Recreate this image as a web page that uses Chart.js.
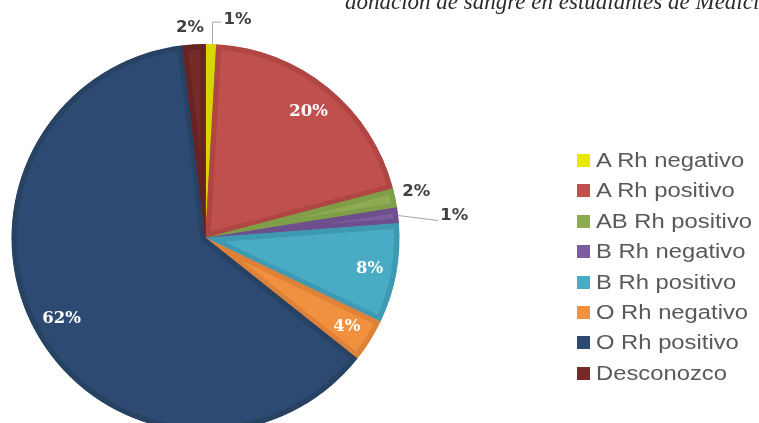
<!DOCTYPE html>
<html>
<head>
<meta charset="utf-8">
<script src="https://cdn.jsdelivr.net/npm/chart.js@4/dist/chart.umd.min.js"></script>
<style>
  html, body { margin:0; padding:0; background:#fff; overflow:hidden; width:759px; height:423px; }
  #wrap { position:absolute; left:0; top:0; width:759px; height:440px; }
  #title { position:absolute; left:345px; top:-11px; white-space:nowrap; font-family:"Liberation Serif", serif; font-style:italic; font-size:23px; color:#2b2b2b; }
  #legend { position:absolute; left:577px; top:149px; font-family:"Liberation Sans", Arial, sans-serif; color:#595959; }
  .item { position:relative; height:30.4px; }
  .sw { position:absolute; left:0; top:5px; width:13px; height:13px; }
  .tx { position:absolute; left:19px; top:0; font-size:19.5px; line-height:22px; white-space:nowrap; transform:scaleX(1.22); transform-origin:0 0; }
</style>
</head>
<body>
<div id="wrap"><canvas id="c" width="759" height="440"></canvas></div>
<div id="title">donación de sangre en estudiantes de Medicina</div>
<div id="legend"></div>
<script>
// ---- data ----
const categories = ["A Rh negativo","A Rh positivo","AB Rh positivo","B Rh negativo","B Rh positivo","O Rh negativo","O Rh positivo","Desconozco"];
const percentages = [0.9, 20.0, 1.6, 1.3, 8.3, 3.6, 62.4, 1.9];
const valueLabels = ["1%","20%","2%","1%","8%","4%","62%","2%"];

// ---- styles ----
const fillColors   = ["#e9e900","#c0504d","#8fab52","#7c5c9c","#4aabc4","#f1913f","#2d4b72","#762a2a"];
const borderColors = ["#d6d600","#b04643","#7e9e47","#6c4f8c","#3d9ab2","#dd8238","#274263","#672323"];
// label placement per slice: inside at fraction of radius, or outside with offsets
const labelPlace = [
  {mode:"leaderTop", up:22, right:9},
  {mode:"in", r:0.84},
  {mode:"out", dx:21, dy:-6},
  {mode:"leader", dx:40, dy:5},
  {mode:"in", r:0.86},
  {mode:"in", r:0.86},
  {mode:"in", r:0.85},
  {mode:"out", dx:-4, dy:-17}
];

const labelPlugin = {
  id: "sliceLabels",
  afterDatasetsDraw(chart) {
    const ctx = chart.ctx;
    const meta = chart.getDatasetMeta(0);
    meta.data.forEach((arc, i) => {
      const p = labelPlace[i];
      const mid = (arc.startAngle + arc.endAngle) / 2;
      const R = arc.outerRadius;
      const ox = arc.x + Math.cos(mid) * R, oy = arc.y + Math.sin(mid) * R;
      ctx.save();
      ctx.textBaseline = "middle";
      if (p.mode === "in") {
        ctx.font = "bold 16.5px 'DejaVu Serif', serif";
        ctx.fillStyle = "#ffffff";
        ctx.textAlign = "center";
        ctx.fillText(valueLabels[i], arc.x + Math.cos(mid) * R * p.r, arc.y + Math.sin(mid) * R * p.r);
      } else {
        ctx.font = "bold 16.5px 'DejaVu Sans', sans-serif";
        ctx.fillStyle = "#404040";
        ctx.strokeStyle = "#a6a6a6";
        ctx.lineWidth = 1;
        if (p.mode === "out") {
          ctx.textAlign = "center";
          ctx.fillText(valueLabels[i], ox + p.dx, oy + p.dy);
        } else if (p.mode === "leader") {
          ctx.beginPath();
          ctx.moveTo(ox, oy);
          ctx.lineTo(ox + p.dx, oy + p.dy);
          ctx.stroke();
          ctx.textAlign = "left";
          ctx.fillText(valueLabels[i], ox + p.dx + 2, oy + p.dy - 5);
        } else if (p.mode === "leaderTop") {
          const lx = ox + 1.5;
          ctx.beginPath();
          ctx.moveTo(lx, oy);
          ctx.lineTo(lx, oy - p.up);
          ctx.lineTo(lx + p.right, oy - p.up);
          ctx.stroke();
          ctx.textAlign = "left";
          ctx.fillText(valueLabels[i], lx + p.right + 2, oy - p.up - 2);
        }
      }
      ctx.restore();
    });
  }
};

new Chart(document.getElementById("c"), {
  type: "pie",
  data: {
    labels: categories,
    datasets: [{
      data: percentages,
      backgroundColor: fillColors,
      borderColor: borderColors,
      borderWidth: 5,
      borderAlign: "inner"
    }]
  },
  options: {
    responsive: false,
    animation: false,
    events: [],
    layout: { padding: { left: 11, top: 44, right: 359, bottom: 8 } },
    plugins: { legend: { display: false }, tooltip: { enabled: false }, title: { display: false } }
  },
  plugins: [labelPlugin]
});

// legend built from the same arrays
const lg = document.getElementById("legend");
categories.forEach((c, i) => {
  const d = document.createElement("div");
  d.className = "item";
  d.innerHTML = '<span class="sw" style="background:' + fillColors[i] + '"></span><span class="tx"></span>';
  d.querySelector(".tx").textContent = c;
  lg.appendChild(d);
});
</script>
</body>
</html>
